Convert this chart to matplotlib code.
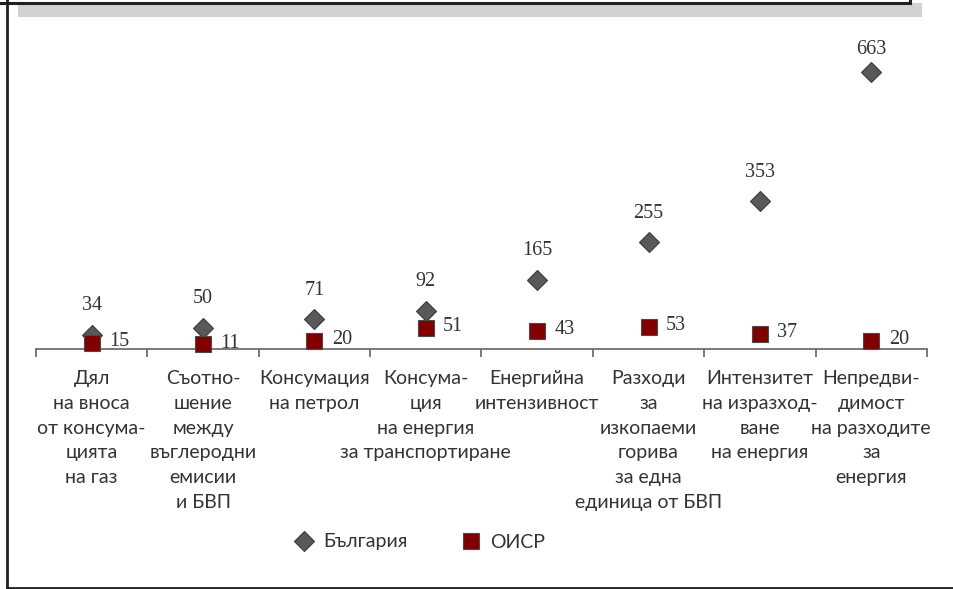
import matplotlib
matplotlib.use("Agg")
import matplotlib.pyplot as plt
from matplotlib.lines import Line2D
from matplotlib.patches import Rectangle

categories = [
    "Дял\nна вноса\nот консума-\nцията\nна газ",
    "Съотно-\nшение\nмежду\nвъглеродни\nемисии\nи БВП",
    "Консумация\nна петрол",
    "Консума-\nция\nна енергия\nза транспортиране",
    "Енергийна\nинтензивност",
    "Разходи\nза\nизкопаеми\nгорива\nза една\nединица от БВП",
    "Интензитет\nна изразход-\nване\nна енергия",
    "Непредви-\nдимост\nна разходите\nза\nенергия",
]
bulgaria = [34, 50, 71, 92, 165, 255, 353, 663]
oecd = [15, 11, 20, 51, 43, 53, 37, 20]
series_names = ["България", "ОИСР"]

W, H = 954, 589
fig = plt.figure(figsize=(W / 100, H / 100), dpi=100)
TXT = "#333333"
TEXT_FONT = ["Lato", "DejaVu Sans"]
NUM_FONT = ["Liberation Serif", "DejaVu Serif"]

def px(x0, y0):
    return x0 / W, 1 - y0 / H

# frame decorations
gx0, gy0 = px(18, 17)
fig.add_artist(Rectangle((gx0, gy0), (922 - 18) / W, 14 / H, transform=fig.transFigure,
                         facecolor="#d1d2d4", edgecolor="none", zorder=0))
fig.add_artist(Line2D([0, 910 / W], [1 - 2.5 / H, 1 - 2.5 / H], transform=fig.transFigure,
                      color="#231f20", lw=2.2))
fig.add_artist(Line2D([910 / W, 910 / W], [1 - 2.5 / H, 1.0], transform=fig.transFigure,
                      color="#231f20", lw=2.2))
fig.add_artist(Line2D([7.5 / W, 7.5 / W], [1 - 587.5 / H, 1.0], transform=fig.transFigure,
                      color="#231f20", lw=2.0))
fig.add_artist(Line2D([7.5 / W, 1.0], [1 - 587.5 / H, 1 - 587.5 / H], transform=fig.transFigure,
                      color="#231f20", lw=2.0))

# axes: x from 36 to 927 px, y=0 at 349 px, 0.418 px per unit
left, right, bottom = 36, 927, 349
ymax = 800
top = bottom - ymax * 0.418
ax = fig.add_axes([left / W, 1 - bottom / H, (right - left) / W, (bottom - top) / H])
ax.patch.set_visible(False)
ax.set_xlim(-0.5, len(categories) - 0.5)
ax.set_ylim(0, ymax)
for s in ["top", "right", "left"]:
    ax.spines[s].set_visible(False)
ax.spines["bottom"].set_color("#707070")
ax.spines["bottom"].set_linewidth(1.3)
ax.set_yticks([])

xs = list(range(len(categories)))
ax.set_xticks([i - 0.5 for i in range(len(categories) + 1)])
ax.set_xticklabels([])
ax.tick_params(axis="x", which="major", direction="out", length=6, width=1.3, color="#707070")
ax.set_xticks(xs, categories, minor=True)
ax.tick_params(axis="x", which="minor", length=0, pad=15)
for lab in ax.get_xticklabels(minor=True):
    lab.set_fontfamily(TEXT_FONT)
    lab.set_fontsize(14)
    lab.set_color(TXT)
    lab.set_linespacing(1.56)
    lab.set_multialignment("center")

ax.plot(xs, bulgaria, linestyle="none", marker="D", markersize=10.2,
        markerfacecolor="#58595b", markeredgecolor="#3c3c3c", markeredgewidth=0.8,
        clip_on=False, zorder=3, label=series_names[0])
ax.plot(xs, oecd, linestyle="none", marker="s", markersize=11.5,
        markerfacecolor="#800000", markeredgecolor="#4a4a4a", markeredgewidth=0.8,
        clip_on=False, zorder=4, label=series_names[1])

for i, (x, v) in enumerate(zip(xs, bulgaria)):
    dy = 16 if i == len(xs) - 1 else 21
    ax.annotate(str(v), (x, v), xytext=(0, dy), textcoords="offset points",
                ha="center", va="center", fontsize=14.5, family=NUM_FONT, color=TXT)
for x, v in zip(xs, oecd):
    ax.annotate(str(v), (x, v), xytext=(12.5, 1), textcoords="offset points",
                ha="left", va="center", fontsize=14.5, family=NUM_FONT, color=TXT)

leg = fig.legend(loc="center", bbox_to_anchor=(420 / W, 1 - 542 / H), ncol=2, frameon=False,
                 handletextpad=0.5, columnspacing=2.75, handlelength=1.0,
                 prop={"family": TEXT_FONT, "size": 14})
for t in leg.get_texts():
    t.set_color(TXT)

fig.savefig("out.png", dpi=100)
